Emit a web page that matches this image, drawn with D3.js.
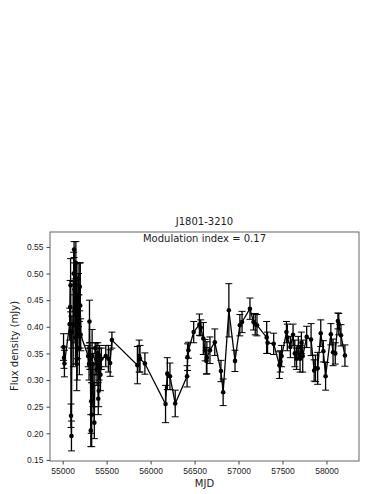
<!DOCTYPE html>
<html>
<head>
<meta charset="utf-8">
<script src="https://cdn.jsdelivr.net/npm/d3@7"></script>
<style>
  body { margin: 0; background: #fff; }
  svg { font-family: "DejaVu Sans", sans-serif; }
</style>
</head>
<body>
<div id="chart"></div>
<script>
const mjd = [55010, 55015, 55020, 55080, 55085, 55090, 55095, 55100, 55105, 55120,
  55125, 55130, 55135, 55140, 55145, 55150, 55155, 55160, 55165, 55170,
  55175, 55180, 55185, 55190, 55195, 55200, 55205, 55290, 55300, 55305,
  55310, 55315, 55320, 55325, 55330, 55335, 55340, 55345, 55360, 55370,
  55380, 55390, 55400, 55405, 55410, 55415, 55420, 55430, 55440, 55490,
  55520, 55540, 55560, 55850, 55870, 55880, 55935, 56170, 56190, 56220,
  56280, 56415, 56420, 56430, 56490, 56555, 56570, 56600, 56620, 56635,
  56640, 56675, 56730, 56800, 56825, 56890, 56960, 57015, 57040, 57130,
  57170, 57190, 57210, 57320, 57330, 57400, 57465, 57475, 57490, 57545,
  57555, 57590, 57620, 57640, 57660, 57680, 57700, 57715, 57730, 57775,
  57825, 57860, 57875, 57900, 57935, 57965, 57990, 58050, 58075, 58100,
  58130, 58140, 58165, 58210];
const flux = [0.362, 0.342, 0.331, 0.405, 0.437, 0.478, 0.233, 0.195, 0.390, 0.405,
  0.500, 0.545, 0.470, 0.430, 0.380, 0.520, 0.460, 0.330, 0.340, 0.400,
  0.490, 0.450, 0.420, 0.360, 0.475, 0.440, 0.385, 0.345, 0.330, 0.410,
  0.345, 0.340, 0.205, 0.260, 0.235, 0.345, 0.330, 0.290, 0.220, 0.360,
  0.340, 0.320, 0.350, 0.265, 0.280, 0.330, 0.345, 0.310, 0.340, 0.345,
  0.340, 0.332, 0.375, 0.328, 0.345, 0.340, 0.331, 0.255, 0.312, 0.307,
  0.256, 0.307, 0.343, 0.356, 0.390, 0.404, 0.398, 0.378, 0.356, 0.336,
  0.342, 0.356, 0.371, 0.317, 0.277, 0.431, 0.336, 0.403, 0.409, 0.434,
  0.409, 0.405, 0.403, 0.380, 0.370, 0.368, 0.328, 0.335, 0.345, 0.390,
  0.380, 0.362, 0.385, 0.350, 0.340, 0.362, 0.340, 0.370, 0.345, 0.381,
  0.376, 0.318, 0.322, 0.322, 0.388, 0.354, 0.307, 0.386, 0.352, 0.350,
  0.411, 0.405, 0.384, 0.346];
const fluxErr = [0.025, 0.020, 0.025, 0.030, 0.050, 0.050, 0.022, 0.028, 0.030, 0.080,
  0.040, 0.015, 0.050, 0.060, 0.050, 0.040, 0.060, 0.050, 0.040, 0.060,
  0.030, 0.050, 0.040, 0.050, 0.045, 0.080, 0.030, 0.020, 0.030, 0.040,
  0.025, 0.020, 0.030, 0.060, 0.060, 0.050, 0.020, 0.040, 0.030, 0.010,
  0.030, 0.030, 0.020, 0.030, 0.030, 0.030, 0.020, 0.030, 0.020, 0.020,
  0.025, 0.025, 0.015, 0.035, 0.030, 0.025, 0.020, 0.035, 0.030, 0.025,
  0.025, 0.020, 0.025, 0.015, 0.020, 0.020, 0.015, 0.030, 0.020, 0.025,
  0.030, 0.025, 0.025, 0.020, 0.025, 0.050, 0.020, 0.020, 0.020, 0.020,
  0.015, 0.020, 0.020, 0.030, 0.020, 0.020, 0.025, 0.020, 0.020, 0.020,
  0.025, 0.020, 0.020, 0.025, 0.020, 0.020, 0.025, 0.020, 0.030, 0.020,
  0.030, 0.020, 0.025, 0.030, 0.025, 0.020, 0.026, 0.020, 0.025, 0.020,
  0.015, 0.020, 0.020, 0.020];

const xTicks = [55000, 55500, 56000, 56500, 57000, 57500, 58000];
const yTicks = [0.15, 0.20, 0.25, 0.30, 0.35, 0.40, 0.45, 0.50, 0.55];
const titleText = "J1801-3210";
const modText = "Modulation index = 0.17";

const data = mjd.map((m, i) => ({ mjd: m, flux: flux[i], err: fluxErr[i] }));

const width = 382;
const height = 494;
const margin = { top: 232, right: 23, bottom: 33, left: 50 };

const svg = d3.select("#chart")
              .append("svg")
              .attr("width", width)
              .attr("height", height);

const x = d3.scaleLinear()
            .domain([54856, 58370])
            .range([margin.left, width - margin.right]);

const y = d3.scaleLinear()
            .domain([0.148, 0.578])
            .range([height - margin.bottom, margin.top]);

// error bars
const eb = svg.append("g").attr("stroke", "#000").attr("stroke-width", 1.3);
data.forEach(d => {
  eb.append("line")
    .attr("x1", x(d.mjd)).attr("x2", x(d.mjd))
    .attr("y1", y(d.flux - d.err)).attr("y2", y(d.flux + d.err));
  [d.flux - d.err, d.flux + d.err].forEach(v => {
    eb.append("line")
      .attr("x1", x(d.mjd) - 3.5).attr("x2", x(d.mjd) + 3.5)
      .attr("y1", y(v)).attr("y2", y(v))
      .attr("stroke-width", 1);
  });
});

// connecting line
svg.append("path")
   .datum(data)
   .attr("fill", "none")
   .attr("stroke", "#000")
   .attr("stroke-width", 1.3)
   .attr("d", d3.line().x(d => x(d.mjd)).y(d => y(d.flux)));

svg.append("g")
   .selectAll("circle")
   .data(data)
   .enter()
   .append("circle")
   .attr("cx", d => x(d.mjd))
   .attr("cy", d => y(d.flux))
   .attr("r", 2.3)
   .attr("fill", "#000");

// axes
const xAxis = svg.append("g")
   .attr("transform", `translate(0, ${height - margin.bottom})`)
   .call(d3.axisBottom(x).tickValues(xTicks).tickFormat(d3.format("d")).tickSize(3.5).tickPadding(3));

const yAxis = svg.append("g")
   .attr("transform", `translate(${margin.left}, 0)`)
   .call(d3.axisLeft(y).tickValues(yTicks).tickFormat(d3.format(".2f")).tickSize(3.5).tickPadding(3));

[xAxis, yAxis].forEach(g => {
  g.select(".domain").remove();
  g.selectAll("line").attr("stroke", "#444");
  g.selectAll("text").attr("font-size", 8.5).attr("fill", "#222");
});

// frame
svg.append("rect")
   .attr("x", margin.left)
   .attr("y", margin.top)
   .attr("width", width - margin.left - margin.right)
   .attr("height", height - margin.top - margin.bottom)
   .attr("fill", "none")
   .attr("stroke", "#555")
   .attr("stroke-width", 0.9);

svg.append("text")
   .attr("x", (margin.left + width - margin.right) / 2)
   .attr("y", 225)
   .attr("font-size", 10)
   .attr("fill", "#222")
   .style("text-anchor", "middle")
   .text(titleText);

svg.append("text")
   .attr("x", (margin.left + width - margin.right) / 2)
   .attr("y", 242)
   .attr("font-size", 10)
   .attr("fill", "#222")
   .style("text-anchor", "middle")
   .text(modText);

svg.append("text")
   .attr("x", (margin.left + width - margin.right) / 2)
   .attr("y", 487)
   .attr("font-size", 10)
   .attr("fill", "#222")
   .style("text-anchor", "middle")
   .text("MJD");

svg.append("text")
   .attr("x", -346)
   .attr("y", 18)
   .attr("transform", "rotate(-90)")
   .attr("font-size", 10)
   .attr("fill", "#222")
   .style("text-anchor", "middle")
   .text("Flux density (mJy)");
</script>
</body>
</html>
